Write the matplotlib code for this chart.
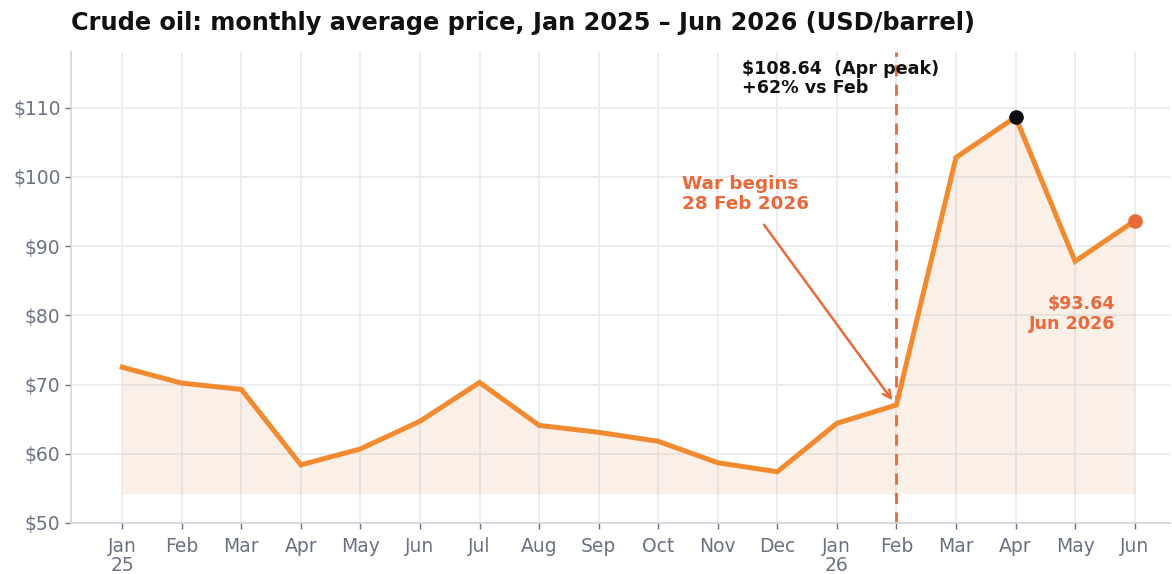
import matplotlib
matplotlib.use("Agg")
import matplotlib.pyplot as plt
import numpy as np

months = ["Jan\n25", "Feb", "Mar", "Apr", "May", "Jun", "Jul", "Aug", "Sep", "Oct",
          "Nov", "Dec", "Jan\n26", "Feb", "Mar", "Apr", "May", "Jun"]
prices = [72.5, 70.2, 69.3, 58.4, 60.7, 64.7, 70.3, 64.1, 63.1, 61.8,
          58.7, 57.4, 64.4, 67.05, 102.8, 108.64, 87.8, 93.64]
fill_base = 54.2
yticks = [50, 60, 70, 80, 90, 100, 110]
ytick_labels = ["$50", "$60", "$70", "$80", "$90", "$100", "$110"]

LINE = "#f28a30"
ACCENT = "#e8693a"
GRID = "#e8eaed"
SPINE = "#d1d5db"
TICK = "#6b7280"

fig = plt.figure(figsize=(11.72, 5.74), dpi=100)
ax = fig.add_axes([0.0606, 0.0889, 0.938, 0.820])
x = np.arange(len(prices))

ax.fill_between(x, fill_base, prices, color="#e0995a", alpha=0.14, linewidth=0, zorder=1)
ax.plot(x, prices, color=LINE, linewidth=3.6, solid_joinstyle="miter", zorder=3)
ax.axvline(13, color=ACCENT, linestyle=(0, (4, 3)), linewidth=2, zorder=2)
ax.plot([15], [prices[15]], "o", color="#0b0d10", markersize=9.5, zorder=4)
ax.plot([17], [prices[17]], "o", color=ACCENT, markersize=9.5, zorder=4)

ax.set_xlim(-0.86, 17.6)
ax.set_ylim(50, 118)
ax.set_xticks(x)
ax.set_xticklabels(months, fontsize=13.5, color=TICK, linespacing=1.0)
ax.set_yticks(yticks)
ax.set_yticklabels(ytick_labels, fontsize=13.5, color=TICK)
ax.tick_params(axis="both", length=4, color=TICK, width=1)
ax.tick_params(axis="x", pad=6)
ax.grid(True, color=GRID, linewidth=1.2, zorder=0)
ax.set_axisbelow(True)
for s in ["top", "right"]:
    ax.spines[s].set_visible(False)
for s in ["left", "bottom"]:
    ax.spines[s].set_color(SPINE)
    ax.spines[s].set_linewidth(1.2)

fig.text(0.0606, 0.960, "Crude oil: monthly average price, Jan 2025 \u2013 Jun 2026 (USD/barrel)",
         fontsize=17.3, fontweight="bold", color="#111111", ha="left", va="center")

ax.text(9.4, 100.2, "War begins\n28 Feb 2026", color=ACCENT, fontsize=13.2,
        fontweight="bold", ha="left", va="top", linespacing=1.1)
ax.annotate("", xy=(12.96, 67.4), xytext=(10.75, 93.4),
            arrowprops=dict(arrowstyle="->", color=ACCENT, lw=1.8, mutation_scale=14))

ax.text(10.4, 116.9, "$108.64  (Apr peak)\n+62% vs Feb", color="#111111", fontsize=12.6,
        fontweight="bold", ha="left", va="top", linespacing=1.1)
ax.text(16.68, 82.9, "$93.64\nJun 2026", color=ACCENT, fontsize=12.6,
        fontweight="bold", ha="right", va="top", linespacing=1.1)

fig.savefig("out.png", dpi=100)
